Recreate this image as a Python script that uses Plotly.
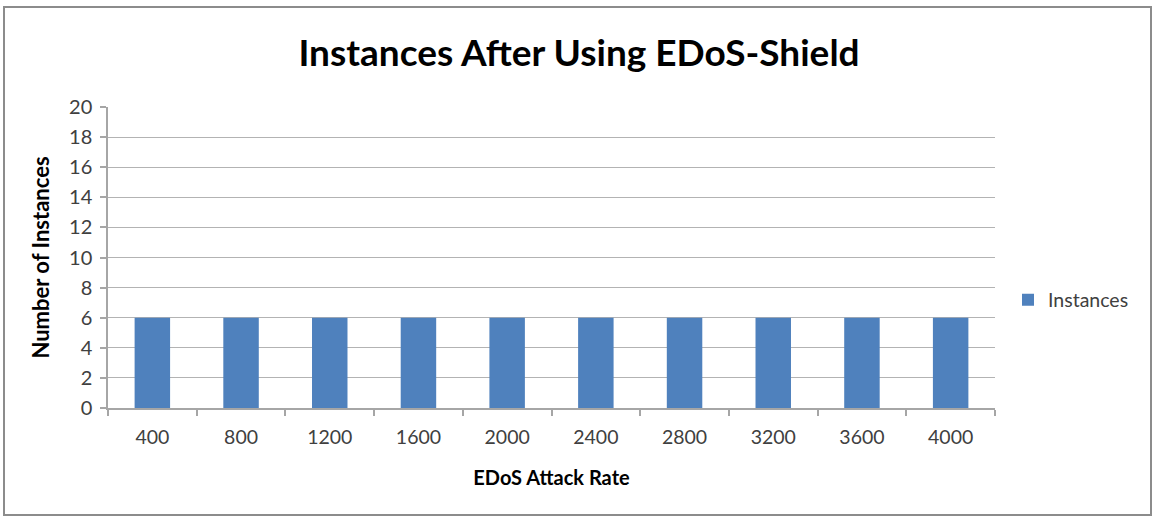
import plotly.graph_objects as go

categories = ["400", "800", "1200", "1600", "2000", "2400", "2800", "3200", "3600", "4000"]
instances = [6, 6, 6, 6, 6, 6, 6, 6, 6, 6]
y_ticks = list(range(0, 21, 2))

W, H = 1153, 517
L, R, T, B = 108, 995, 107, 408
pw, ph = R - L, B - T

fig = go.Figure()
fig.add_trace(go.Bar(
    x=categories, y=instances, name="Instances",
    marker=dict(color="#4f81bd", line=dict(width=0)),
))

def px_x(x):
    return (x - L) / pw

def px_y(y):
    return (B - y) / ph

fig.update_layout(
    width=W, height=H,
    margin=dict(l=L, r=W - R, t=T, b=H - B, pad=0),
    paper_bgcolor="white", plot_bgcolor="white",
    font=dict(family="Lato, Carlito, Calibri, sans-serif", color="#595959", size=19),
    bargap=0.6,
    showlegend=True,
    title=dict(
        text="<b>Instances After Using EDoS-Shield</b>",
        x=579 / W, xanchor="center", y=1 - 53 / H, yanchor="middle",
        font=dict(size=37, color="#000000", family="Lato, Carlito, Calibri, sans-serif"),
    ),
    legend=dict(
        x=px_x(1008), xanchor="left", y=px_y(300), yanchor="middle",
        font=dict(size=19.5, color="#404040"),
        itemwidth=30, bgcolor="rgba(0,0,0,0)",
    ),
    xaxis=dict(
        type="category",
        showline=True, linecolor="#a6a6a6", linewidth=1.5,
        ticks="outside", tickson="boundaries", ticklen=6, tickcolor="#a6a6a6", tickwidth=1.5,
        showgrid=False,
        tickfont=dict(size=19.5, color="#404040"),
        ticklabelstandoff=11,
        title=dict(text="<b>EDoS Attack Rate</b>", font=dict(size=20, color="#000000"), standoff=24),
    ),
    yaxis=dict(
        range=[0, 20], tickvals=y_ticks,
        showline=True, linecolor="#a6a6a6", linewidth=1.5,
        ticks="outside", ticklen=6, tickcolor="#a6a6a6", tickwidth=1.5,
        showgrid=True, gridcolor="#b3b3b3", gridwidth=1,
        zeroline=False,
        tickfont=dict(size=20, color="#404040"),
        ticklabelstandoff=4,
        title=dict(text="<b>Number of Instances</b>", font=dict(size=22, color="#000000"), standoff=13),
    ),
    shapes=[dict(
        type="rect", xref="paper", yref="paper",
        x0=px_x(4), x1=px_x(1151), y0=px_y(515), y1=px_y(7),
        line=dict(color="#8c8c8c", width=2), fillcolor="rgba(0,0,0,0)", layer="below",
    )],
)

fig.write_html("out.html")
